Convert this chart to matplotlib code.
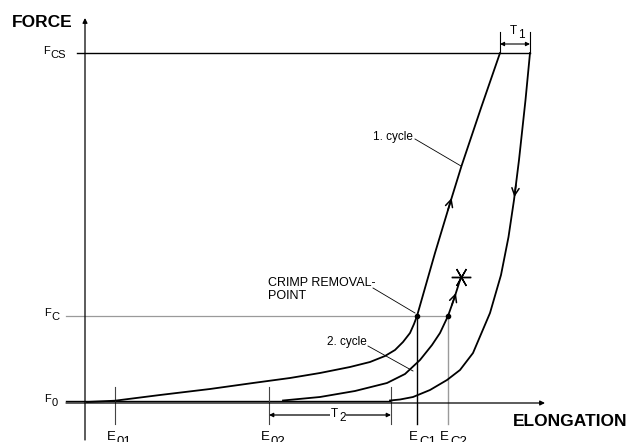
"""Force / elongation schematic: crimp removal cycles"""
import numpy as np
import matplotlib
matplotlib.use('Agg')
import matplotlib.pyplot as plt

plt.rcParams['font.family'] = ['Liberation Sans', 'DejaVu Sans']

# reference levels (force) and elongations, arbitrary units
F0, FC, FCS = 2.5, 87, 350
E01, E02, EC1, EC2 = 30, 184, 332, 363
E_T2_END = 306          # end of the T2 span
E_T1 = (415, 445)       # T1 span at F_CS

# 1. cycle, loading
c1_x = [2, 30, 75, 125, 168, 205, 235, 265, 285, 300, 310, 318, 325, 329, 332, 350, 366, 376.5, 396, 415]
c1_y = [1, 2.3, 8, 14, 20, 25, 30, 36, 41, 47, 53, 61, 70, 79, 87, 150, 203, 237, 295, 350]
# unloading back to F0
c3_x = [445, 440.5, 434, 429, 423.5, 416, 405, 388, 375, 362, 345, 328, 315, 305]
c3_y = [350, 303, 243, 203, 166, 128, 90, 50, 33, 23, 13, 6, 3.5, 2.5]
# 2. cycle, loading up to break
c2_x = [198, 235, 270, 302, 320, 335, 347, 355, 363, 369, 376]
c2_y = [2.5, 6, 12, 20, 29, 43, 58, 70, 87, 104, 126]

# force levels where the direction arrows sit
ARROW_C1, ARROW_C2, ARROW_C3 = 205, 110, 206

GRAY = '#9a9a9a'
DARK = '#444444'


def sub_label(ax, x, y, main, sub, size=8, dy=-3.2, bg=None):
    """text with a same-size subscript, left aligned"""
    bbox = dict(fc='white', ec='none', pad=0.5) if bg else None
    t = ax.text(x, y, main, fontsize=size, ha='left', va='center', bbox=bbox)
    ax.annotate(sub, xy=(1, 0.5), xycoords=t, xytext=(0.8, dy),
                textcoords='offset points', fontsize=size, ha='left', va='center', bbox=bbox)


def curve_arrow(ax, xs, ys, y_tip, up=True):
    """open arrow head on a curve at force level y_tip"""
    xs, ys = np.asarray(xs), np.asarray(ys)
    order = np.argsort(ys)
    y_tail = y_tip - 12 if up else y_tip + 12
    x_tip = np.interp(y_tip, ys[order], xs[order])
    x_tail = np.interp(y_tail, ys[order], xs[order])
    ax.annotate('', xy=(x_tip, y_tip), xytext=(x_tail, y_tail),
                arrowprops=dict(arrowstyle='->', lw=1.1, color='black',
                                mutation_scale=13, shrinkA=0, shrinkB=0))


fig = plt.figure(figsize=(6.33, 4.42), dpi=100)
ax = fig.add_axes([0, 0, 1, 1])
ax.set_xlim(-85, 548)
ax.set_ylim(-39, 403)
ax.axis('off')

# axes with arrows
ax.annotate('', xy=(0, 385), xytext=(0, -37),
            arrowprops=dict(arrowstyle='-|>', lw=0.9, color='black', mutation_scale=7,
                            shrinkA=0, shrinkB=0))
ax.annotate('', xy=(460, 0), xytext=(-19, 0),
            arrowprops=dict(arrowstyle='-|>', lw=0.9, color='black', mutation_scale=7,
                            shrinkA=0, shrinkB=0))
ax.text(-73, 380.5, 'FORCE', fontsize=12.5, fontweight='bold', ha='left', va='center')
ax.text(428, -19, 'ELONGATION', fontsize=12.5, fontweight='bold', ha='left', va='center')

# force levels
ax.plot([-8, E_T1[1]], [FCS, FCS], color='black', lw=1.0)
ax.plot([-19, EC2], [FC, FC], color=GRAY, lw=0.9)
ax.plot([-19, E_T2_END], [F0, F0], color='black', lw=1.0)
sub_label(ax, -42, 352, 'F', 'CS')
sub_label(ax, -41, 90, 'F', 'C')
sub_label(ax, -41, 4, 'F', '0')

# elongation marks
for e in (E01, E02, E_T2_END):
    ax.plot([e, e], [16, -21], color=DARK, lw=0.8)
ax.plot([EC1, EC1], [FC, -21], color='black', lw=1.0)
ax.plot([EC2, EC2], [FC, -21], color=GRAY, lw=1.0)
for e, s in ((E01, '01'), (E02, '02'), (EC1, 'C1'), (EC2, 'C2')):
    sub_label(ax, e - 8, -34, 'E', s, size=9.5, dy=-3.5)

# T2 span
ax.annotate('', xy=(E02, -12), xytext=(E_T2_END, -12),
            arrowprops=dict(arrowstyle='<|-|>', lw=0.9, color='black', mutation_scale=6,
                            shrinkA=0, shrinkB=0))
sub_label(ax, 246, -11, 'T', '2', size=8.5, bg=True)

# T1 span
for e in E_T1:
    ax.plot([e, e], [FCS, 371], color='black', lw=0.8)
ax.annotate('', xy=(E_T1[0], 359), xytext=(E_T1[1], 359),
            arrowprops=dict(arrowstyle='<|-|>', lw=0.8, color='black', mutation_scale=6,
                            shrinkA=0, shrinkB=0))
sub_label(ax, 425, 372, 'T', '1', size=8.5)

# curves
ax.plot(c1_x, c1_y, color='black', lw=1.3, solid_joinstyle='round')
ax.plot(c3_x, c3_y, color='black', lw=1.3, solid_joinstyle='round')
ax.plot(c2_x, c2_y, color='black', lw=1.3, solid_joinstyle='round')
curve_arrow(ax, c1_x, c1_y, ARROW_C1, up=True)
curve_arrow(ax, c2_x, c2_y, ARROW_C2, up=True)
curve_arrow(ax, c3_x, c3_y, ARROW_C3, up=False)

# crimp removal points and break
ax.plot([EC1, EC2], [FC, FC], 'o', color='black', markersize=3)
ax.plot(c2_x[-1], c2_y[-1], marker=(6, 2, 30), color='black', markersize=14, mew=1.0)

# leaders and notes
ax.plot([330, 376], [264, 237], color='black', lw=0.6)
ax.text(288, 266, '1. cycle', fontsize=8.5, ha='left', va='center')
ax.plot([288, 330], [115, 90], color='black', lw=0.6)
ax.text(183, 120, 'CRIMP REMOVAL-', fontsize=9, ha='left', va='center')
ax.text(183, 107, 'POINT', fontsize=9, ha='left', va='center')
ax.plot([283, 328], [57, 32], color='black', lw=0.6)
ax.text(242, 61, '2. cycle', fontsize=8.5, ha='left', va='center')

fig.savefig('out.png', dpi=100)
plt.close(fig)
